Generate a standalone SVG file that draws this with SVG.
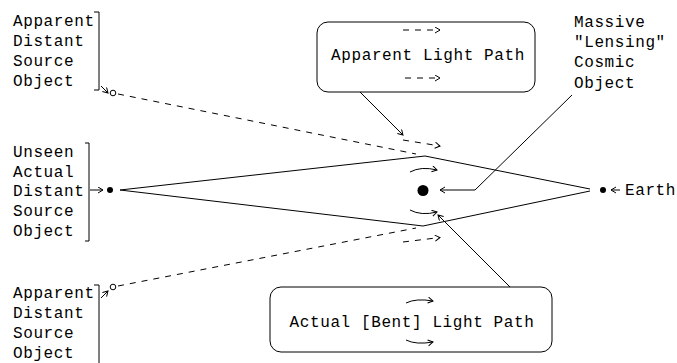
<svg xmlns="http://www.w3.org/2000/svg" width="677" height="363" viewBox="0 0 677 363">
<style>
text{font-family:"Liberation Mono","Courier New",monospace;font-size:16px;letter-spacing:0.6px;fill:#000}
.ln{stroke:#000;stroke-width:1;fill:none}
.ds{stroke:#000;stroke-width:1;fill:none;stroke-dasharray:6 6}
.box{stroke:#000;stroke-width:1;fill:#fff}
</style>
<defs>
<marker id="ah" markerWidth="8" markerHeight="8" refX="6" refY="3.5" orient="auto" markerUnits="userSpaceOnUse">
<path d="M1,0.5 L6,3.5 L1,6.5" fill="none" stroke="#000" stroke-width="1"/>
</marker>
</defs>
<rect width="677" height="363" fill="#fff"/>
<g id="connectors">
<path class="ln" d="M120,190 L425,156 L590,189"/>
<path class="ln" d="M120,190 L423,226 L590,191"/>
<path class="ds" d="M118,94 L416,154"/>
<path class="ds" d="M118,286 L416,228"/>
<path class="ds" d="M403,140 L440,146" marker-end="url(#ah)"/>
<path class="ds" d="M403,242 L440,237.5" marker-end="url(#ah)"/>
<path class="ln" d="M410,172 Q421,166 437,170" marker-end="url(#ah)"/>
<path class="ln" d="M410,210 Q421,216 437,212" marker-end="url(#ah)"/>
<path class="ln" d="M572,95 L475,190 L440,190" marker-end="url(#ah)"/>
<path class="ln" d="M360,92 L403,135" marker-end="url(#ah)"/>
<path class="ln" d="M510,287 L438,215" marker-end="url(#ah)"/>
<path class="ln" d="M90,190 L103,190" marker-end="url(#ah)"/>
<path class="ln" d="M620,190 L611,190" marker-end="url(#ah)"/>
<path class="ln" d="M101,86 L108,93" marker-end="url(#ah)"/>
<path class="ln" d="M101,298 L108,291" marker-end="url(#ah)"/>
</g>
<g id="apparent-top">
<path class="ln" d="M94,12 L99,12 L99,90 L94,90"/>
<text x="13" y="26">Apparent</text>
<text x="13" y="46">Distant</text>
<text x="13" y="66">Source</text>
<text x="13" y="86">Object</text>
<circle cx="113" cy="93" r="2.8" fill="#fff" stroke="#000"/>
</g>
<g id="unseen-source">
<path class="ln" d="M85,143 L89,143 L89,241 L85,241"/>
<text x="13" y="157">Unseen</text>
<text x="13" y="177">Actual</text>
<text x="13" y="196">Distant</text>
<text x="13" y="216">Source</text>
<text x="13" y="236">Object</text>
<circle cx="110" cy="190" r="3" fill="#000"/>
</g>
<g id="apparent-bottom">
<path class="ln" d="M94,285 L99,285 L99,363"/>
<text x="13" y="298">Apparent</text>
<text x="13" y="318">Distant</text>
<text x="13" y="338">Source</text>
<text x="13" y="358">Object</text>
<circle cx="113" cy="287" r="2.8" fill="#fff" stroke="#000"/>
</g>
<g id="apparent-light-path">
<rect class="box" x="317" y="22" width="218" height="70" rx="11"/>
<text x="428" y="60" text-anchor="middle">Apparent Light Path</text>
<path class="ds" d="M403,30 L440,30" marker-end="url(#ah)"/>
<path class="ds" d="M405,78 L440,78" marker-end="url(#ah)"/>
</g>
<g id="actual-light-path">
<rect class="box" x="270" y="287" width="282" height="65" rx="11"/>
<text x="412" y="327" text-anchor="middle">Actual [Bent] Light Path</text>
<path class="ln" d="M406,303 Q416,298 433,301" marker-end="url(#ah)"/>
<path class="ln" d="M406,340 Q416,345 433,342" marker-end="url(#ah)"/>
</g>
<g id="lens">
<circle cx="423" cy="190.5" r="5.5" fill="#000"/>
<text x="574" y="27">Massive</text>
<text x="574" y="47">"Lensing"</text>
<text x="574" y="67">Cosmic</text>
<text x="574" y="88">Object</text>
</g>
<g id="earth">
<circle cx="603" cy="190" r="3" fill="#000"/>
<text x="625" y="195">Earth</text>
</g>
</svg>
